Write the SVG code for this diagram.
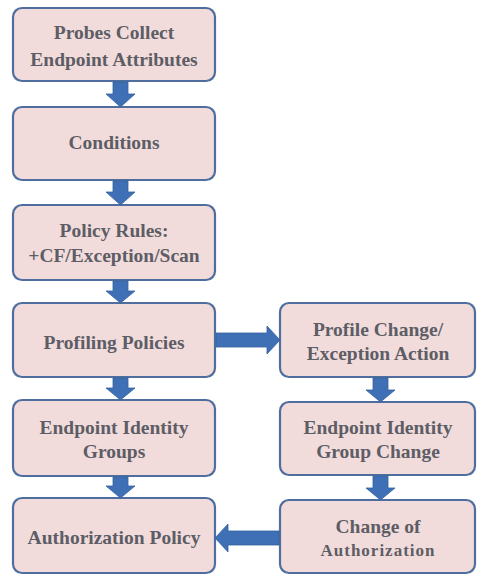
<svg xmlns="http://www.w3.org/2000/svg" width="477" height="576" viewBox="0 0 477 576">
<defs>
<style>
.box{fill:#f2dcdb;stroke:#4f6e9f;stroke-width:2.2}
.t{font-family:"Liberation Serif","DejaVu Serif",serif;font-size:19.5px;font-weight:bold;fill:#5d5d66;text-anchor:middle}
.s{font-size:17px;letter-spacing:1px}
.arr{fill:#3f70b5;stroke:#36629f;stroke-width:0.8}
</style>
</defs>
<rect width="477" height="576" fill="#ffffff"/>
<g id="n1"><rect class="box" x="13" y="8" width="202" height="73" rx="9"/><text class="t" x="114" y="39">Probes Collect</text><text class="t" x="114" y="66">Endpoint Attributes</text></g>
<g id="n2"><rect class="box" x="13" y="107" width="202" height="73" rx="9"/><text class="t" x="114" y="149">Conditions</text></g>
<g id="n3"><rect class="box" x="13" y="205" width="202" height="75" rx="9"/><text class="t" x="114" y="237">Policy Rules:</text><text class="t" x="114" y="262">+CF/Exception/Scan</text></g>
<g id="n4"><rect class="box" x="13" y="303" width="202" height="74" rx="9"/><text class="t" x="114" y="349">Profiling Policies</text></g>
<g id="n5"><rect class="box" x="13" y="400" width="202" height="76" rx="9"/><text class="t" x="114" y="434">Endpoint Identity</text><text class="t" x="114" y="458">Groups</text></g>
<g id="n6"><rect class="box" x="13" y="498" width="202" height="75" rx="9"/><text class="t" x="114" y="544">Authorization Policy</text></g>
<g id="n7"><rect class="box" x="280" y="303" width="195" height="74" rx="9"/><text class="t" x="378" y="336">Profile Change/</text><text class="t" x="378" y="360">Exception Action</text></g>
<g id="n8"><rect class="box" x="280" y="402" width="195" height="73" rx="9"/><text class="t" x="378" y="434">Endpoint Identity</text><text class="t" x="378" y="458">Group Change</text></g>
<g id="n9"><rect class="box" x="280" y="500" width="195" height="73" rx="9"/><text class="t" x="378" y="533">Change of</text><text class="t s" x="378" y="556">Authorization</text></g>
<g id="connectors">
<path class="arr" d="M113 82 H128 V94 H135 L120.5 107 L106 94 H113 Z"/>
<path class="arr" d="M113 181 H128 V192 H135 L120.5 205 L106 192 H113 Z"/>
<path class="arr" d="M113 281 H128 V291 H135 L120.5 303 L106 291 H113 Z"/>
<path class="arr" d="M113 378 H128 V388 H135 L120.5 400 L106 388 H113 Z"/>
<path class="arr" d="M113 477 H128 V486 H135 L120.5 498 L106 486 H113 Z"/>
<path class="arr" d="M373 378 H388 V390 H395 L380.5 402 L366 390 H373 Z"/>
<path class="arr" d="M373 476 H388 V488 H395 L380.5 500 L366 488 H373 Z"/>
<path class="arr" d="M216 333 H267 V326 L280 340 L267 354 V347 H216 Z"/>
<path class="arr" d="M279 531 H228 V524 L215 538 L228 552 V545 H279 Z"/>
</g>
</svg>
